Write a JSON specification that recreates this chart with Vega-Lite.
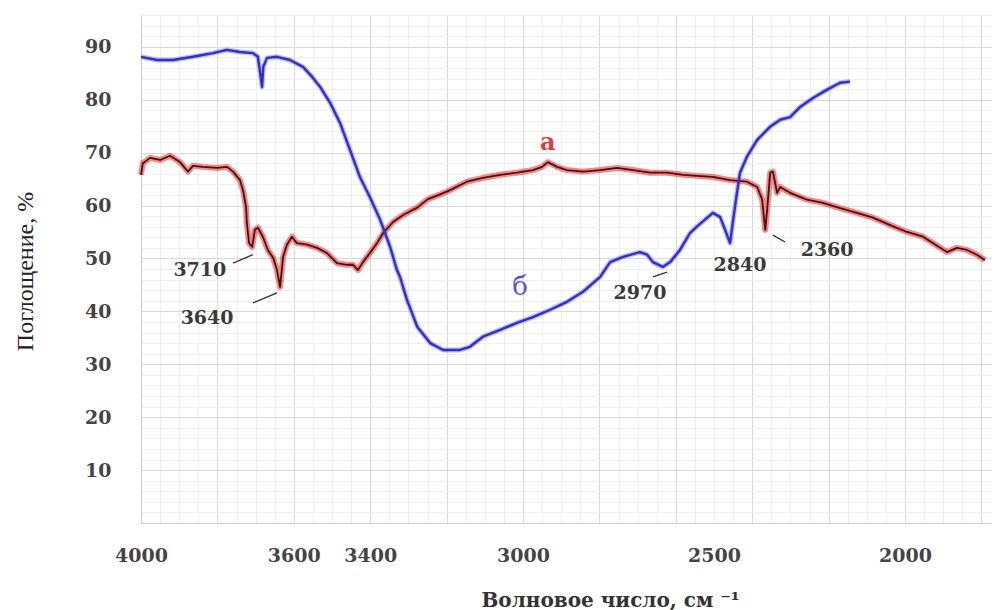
{
  "$schema": "https://vega.github.io/schema/vega-lite/v6.json",
  "autosize": {"type": "none"},
  "width": 850,
  "height": 508,
  "padding": {"left": 141, "top": 15, "right": 7, "bottom": 87},
  "background": "#ffffff",
  "config": {"view": {"stroke": null}},
  "datasets": {
    "spectra": [
      {"wn": 4000, "t": 65.8, "s": "а"}, {"wn": 3995, "t": 68.0, "s": "а"}, {"wn": 3976, "t": 69.0, "s": "а"}, {"wn": 3950, "t": 68.6, "s": "а"},
      {"wn": 3924, "t": 69.4, "s": "а"}, {"wn": 3898, "t": 68.2, "s": "а"}, {"wn": 3877, "t": 66.4, "s": "а"}, {"wn": 3864, "t": 67.5, "s": "а"},
      {"wn": 3838, "t": 67.3, "s": "а"}, {"wn": 3801, "t": 67.1, "s": "а"}, {"wn": 3775, "t": 67.3, "s": "а"}, {"wn": 3759, "t": 66.4, "s": "а"},
      {"wn": 3741, "t": 64.8, "s": "а"}, {"wn": 3733, "t": 62.9, "s": "а"}, {"wn": 3725, "t": 59.7, "s": "а"}, {"wn": 3723, "t": 56.7, "s": "а"},
      {"wn": 3717, "t": 52.9, "s": "а"}, {"wn": 3709, "t": 52.2, "s": "а"}, {"wn": 3702, "t": 55.4, "s": "а"}, {"wn": 3694, "t": 55.8, "s": "а"},
      {"wn": 3681, "t": 54.1, "s": "а"}, {"wn": 3668, "t": 51.6, "s": "а"}, {"wn": 3654, "t": 50.1, "s": "а"}, {"wn": 3644, "t": 47.8, "s": "а"},
      {"wn": 3636, "t": 44.6, "s": "а"}, {"wn": 3628, "t": 50.3, "s": "а"}, {"wn": 3618, "t": 52.6, "s": "а"}, {"wn": 3605, "t": 54.1, "s": "а"},
      {"wn": 3592, "t": 52.9, "s": "а"}, {"wn": 3565, "t": 52.6, "s": "а"}, {"wn": 3539, "t": 52.0, "s": "а"}, {"wn": 3513, "t": 51.0, "s": "а"},
      {"wn": 3487, "t": 49.1, "s": "а"}, {"wn": 3461, "t": 48.8, "s": "а"}, {"wn": 3445, "t": 48.8, "s": "а"}, {"wn": 3432, "t": 47.8, "s": "а"},
      {"wn": 3419, "t": 49.3, "s": "а"}, {"wn": 3401, "t": 51.0, "s": "а"}, {"wn": 3382, "t": 52.9, "s": "а"}, {"wn": 3366, "t": 54.8, "s": "а"},
      {"wn": 3340, "t": 56.9, "s": "а"}, {"wn": 3314, "t": 58.2, "s": "а"}, {"wn": 3277, "t": 59.6, "s": "а"}, {"wn": 3249, "t": 61.2, "s": "а"},
      {"wn": 3220, "t": 62.0, "s": "а"}, {"wn": 3191, "t": 62.9, "s": "а"}, {"wn": 3147, "t": 64.5, "s": "а"}, {"wn": 3105, "t": 65.2, "s": "а"},
      {"wn": 3060, "t": 65.8, "s": "а"}, {"wn": 3016, "t": 66.2, "s": "а"}, {"wn": 2974, "t": 66.7, "s": "а"}, {"wn": 2950, "t": 67.3, "s": "а"},
      {"wn": 2935, "t": 68.2, "s": "а"}, {"wn": 2911, "t": 67.3, "s": "а"}, {"wn": 2885, "t": 66.7, "s": "а"}, {"wn": 2843, "t": 66.4, "s": "а"},
      {"wn": 2798, "t": 66.7, "s": "а"}, {"wn": 2754, "t": 67.1, "s": "а"}, {"wn": 2712, "t": 66.7, "s": "а"}, {"wn": 2668, "t": 66.2, "s": "а"},
      {"wn": 2623, "t": 66.2, "s": "а"}, {"wn": 2581, "t": 65.8, "s": "а"}, {"wn": 2545, "t": 65.6, "s": "а"}, {"wn": 2503, "t": 65.4, "s": "а"},
      {"wn": 2458, "t": 64.8, "s": "а"}, {"wn": 2414, "t": 64.5, "s": "а"}, {"wn": 2387, "t": 63.5, "s": "а"}, {"wn": 2374, "t": 61.1, "s": "а"},
      {"wn": 2366, "t": 55.4, "s": "а"}, {"wn": 2361, "t": 59.2, "s": "а"}, {"wn": 2353, "t": 66.2, "s": "а"}, {"wn": 2346, "t": 66.4, "s": "а"},
      {"wn": 2335, "t": 62.4, "s": "а"}, {"wn": 2327, "t": 63.5, "s": "а"}, {"wn": 2301, "t": 62.4, "s": "а"}, {"wn": 2257, "t": 61.1, "s": "а"},
      {"wn": 2215, "t": 60.5, "s": "а"}, {"wn": 2170, "t": 59.5, "s": "а"}, {"wn": 2126, "t": 58.6, "s": "а"}, {"wn": 2084, "t": 57.7, "s": "а"},
      {"wn": 2039, "t": 56.3, "s": "а"}, {"wn": 1995, "t": 55.0, "s": "а"}, {"wn": 1953, "t": 54.1, "s": "а"}, {"wn": 1908, "t": 52.0, "s": "а"},
      {"wn": 1890, "t": 51.2, "s": "а"}, {"wn": 1864, "t": 52.0, "s": "а"}, {"wn": 1838, "t": 51.6, "s": "а"}, {"wn": 1812, "t": 50.7, "s": "а"},
      {"wn": 1791, "t": 49.7, "s": "а"},
      {"wn": 4000, "t": 88.1, "s": "б"}, {"wn": 3958, "t": 87.5, "s": "б"}, {"wn": 3916, "t": 87.5, "s": "б"}, {"wn": 3864, "t": 88.1, "s": "б"},
      {"wn": 3812, "t": 88.8, "s": "б"}, {"wn": 3775, "t": 89.4, "s": "б"}, {"wn": 3741, "t": 89.0, "s": "б"}, {"wn": 3707, "t": 88.8, "s": "б"},
      {"wn": 3694, "t": 88.1, "s": "б"}, {"wn": 3686, "t": 84.0, "s": "б"}, {"wn": 3683, "t": 82.4, "s": "б"}, {"wn": 3680, "t": 86.2, "s": "б"},
      {"wn": 3670, "t": 87.9, "s": "б"}, {"wn": 3644, "t": 88.1, "s": "б"}, {"wn": 3610, "t": 87.5, "s": "б"}, {"wn": 3576, "t": 86.2, "s": "б"},
      {"wn": 3552, "t": 84.3, "s": "б"}, {"wn": 3531, "t": 82.4, "s": "б"}, {"wn": 3505, "t": 79.4, "s": "б"}, {"wn": 3479, "t": 75.6, "s": "б"},
      {"wn": 3453, "t": 70.5, "s": "б"}, {"wn": 3427, "t": 65.4, "s": "б"}, {"wn": 3401, "t": 61.6, "s": "б"}, {"wn": 3374, "t": 57.3, "s": "б"},
      {"wn": 3348, "t": 52.2, "s": "б"}, {"wn": 3330, "t": 47.8, "s": "б"}, {"wn": 3322, "t": 46.5, "s": "б"}, {"wn": 3304, "t": 42.2, "s": "б"},
      {"wn": 3277, "t": 37.1, "s": "б"}, {"wn": 3243, "t": 34.0, "s": "б"}, {"wn": 3209, "t": 32.7, "s": "б"}, {"wn": 3165, "t": 32.7, "s": "б"},
      {"wn": 3139, "t": 33.3, "s": "б"}, {"wn": 3105, "t": 35.2, "s": "б"}, {"wn": 3060, "t": 36.5, "s": "б"}, {"wn": 3016, "t": 37.8, "s": "б"},
      {"wn": 2974, "t": 38.9, "s": "б"}, {"wn": 2929, "t": 40.3, "s": "б"}, {"wn": 2885, "t": 41.8, "s": "б"}, {"wn": 2843, "t": 43.7, "s": "б"},
      {"wn": 2798, "t": 46.5, "s": "б"}, {"wn": 2772, "t": 49.3, "s": "б"}, {"wn": 2738, "t": 50.3, "s": "б"}, {"wn": 2694, "t": 51.2, "s": "б"},
      {"wn": 2675, "t": 50.7, "s": "б"}, {"wn": 2660, "t": 49.3, "s": "б"}, {"wn": 2634, "t": 48.4, "s": "б"}, {"wn": 2615, "t": 49.3, "s": "б"},
      {"wn": 2589, "t": 51.6, "s": "б"}, {"wn": 2563, "t": 54.8, "s": "б"}, {"wn": 2545, "t": 56.0, "s": "б"}, {"wn": 2503, "t": 58.6, "s": "б"},
      {"wn": 2484, "t": 57.8, "s": "б"}, {"wn": 2471, "t": 55.4, "s": "б"}, {"wn": 2458, "t": 52.9, "s": "б"}, {"wn": 2450, "t": 57.3, "s": "б"},
      {"wn": 2440, "t": 62.4, "s": "б"}, {"wn": 2432, "t": 66.2, "s": "б"}, {"wn": 2414, "t": 69.2, "s": "б"}, {"wn": 2387, "t": 72.4, "s": "б"},
      {"wn": 2353, "t": 74.9, "s": "б"}, {"wn": 2327, "t": 76.2, "s": "б"}, {"wn": 2301, "t": 76.7, "s": "б"}, {"wn": 2275, "t": 78.6, "s": "б"},
      {"wn": 2241, "t": 80.3, "s": "б"}, {"wn": 2204, "t": 81.9, "s": "б"}, {"wn": 2170, "t": 83.2, "s": "б"}, {"wn": 2144, "t": 83.4, "s": "б"}
    ],
    "notes": [
      {"wn": 3846, "v": 47.8, "label": "3710", "kind": "num"},
      {"wn": 3827, "v": 38.8, "label": "3640", "kind": "num"},
      {"wn": 2694, "v": 43.5, "label": "2970", "kind": "num"},
      {"wn": 2432, "v": 48.8, "label": "2840", "kind": "num"},
      {"wn": 2204, "v": 51.6, "label": "2360", "kind": "num"},
      {"wn": 2935, "v": 71.8, "label": "а", "kind": "a"},
      {"wn": 3008, "v": 44.6, "label": "б", "kind": "b"}
    ],
    "leaders": [
      {"wn1": 3759, "v1": 49.1, "wn2": 3707, "v2": 50.7},
      {"wn1": 3707, "v1": 41.6, "wn2": 3644, "v2": 43.5},
      {"wn1": 2660, "v1": 46.5, "wn2": 2623, "v2": 47.4},
      {"wn1": 2346, "v1": 54.4, "wn2": 2314, "v2": 53.1}
    ]
  },
  "encoding": {
    "x": {
      "field": "wn", "type": "quantitative",
      "scale": {"domain": [1775, 4000], "reverse": true, "nice": false, "zero": false},
      "axis": {
        "title": "Волновое  число,   см   ⁻¹",
        "values": [1800,1850,1900,1950,2000,2050,2100,2150,2200,2250,2300,2350,2400,2450,2500,2550,2600,2650,2700,2750,2800,2850,2900,2950,3000,3050,3100,3150,3200,3250,3300,3350,3400,3450,3500,3550,3600,3650,3700,3750,3800,3850,3900,3950,4000],
        "labelExpr": "indexof([4000,3600,3400,3000,2500,2000], datum.value) >= 0 ? datum.value : ''",
        "labelOverlap": false, "labelFlush": false, "labelBound": false,
        "ticks": false, "tickSize": 0, "labelPadding": 23,
        "labelFont": "DejaVu Serif", "labelFontWeight": "bold", "labelFontSize": 19, "labelColor": "#444444",
        "grid": true,
        "gridColor": {"condition": {"test": "datum.value % 200 === 0", "value": "#d9d9d9"}, "value": "#eeeeee"},
        "gridWidth": 1,
        "domainColor": "#cccccc",
        "titleFont": "DejaVu Serif", "titleFontWeight": "bold", "titleFontSize": 20, "titleColor": "#333333",
        "titleX": 469, "titleY": 77, "titleBaseline": "middle", "titleAlign": "center"
      }
    },
    "y": {
      "field": "t", "type": "quantitative",
      "scale": {"domain": [0, 96], "nice": false, "zero": true},
      "axis": {
        "title": "Поглощение, %",
        "values": [0,2,4,6,8,10,12,14,16,18,20,22,24,26,28,30,32,34,36,38,40,42,44,46,48,50,52,54,56,58,60,62,64,66,68,70,72,74,76,78,80,82,84,86,88,90,92,94,96],
        "labelExpr": "datum.value % 10 === 0 && datum.value > 0 ? datum.value : ''",
        "labelOverlap": false, "labelFlush": false, "labelBound": false,
        "ticks": false, "tickSize": 0, "labelPadding": 30,
        "labelFont": "DejaVu Serif", "labelFontWeight": "bold", "labelFontSize": 19, "labelColor": "#444444",
        "grid": true,
        "gridColor": {"condition": {"test": "datum.value % 10 === 0", "value": "#d9d9d9"}, "value": "#eeeeee"},
        "gridWidth": 1,
        "domainColor": "#cccccc",
        "titleFont": "Liberation Serif", "titleFontWeight": "normal", "titleFontSize": 24, "titleColor": "#222222",
        "titleX": -104, "titleY": 256, "titleAngle": 270, "titleBaseline": "bottom", "titleAlign": "center"
      }
    }
  },
  "layer": [
    {
      "data": {"name": "spectra"},
      "transform": [{"filter": "datum.s === 'а'"}],
      "mark": {"type": "line", "color": "#ec3b3b", "strokeWidth": 6, "opacity": 0.6, "strokeJoin": "round"}
    },
    {
      "data": {"name": "spectra"},
      "transform": [{"filter": "datum.s === 'б'"}],
      "mark": {"type": "line", "color": "#7a7af0", "strokeWidth": 5, "opacity": 0.5, "strokeJoin": "round"}
    },
    {
      "data": {"name": "spectra"},
      "transform": [{"filter": "datum.s === 'а'"}],
      "mark": {"type": "line", "color": "#4a0f0f", "strokeWidth": 1.8, "strokeJoin": "round"}
    },
    {
      "data": {"name": "spectra"},
      "transform": [{"filter": "datum.s === 'б'"}],
      "mark": {"type": "line", "color": "#3030c8", "strokeWidth": 2.4, "strokeJoin": "round"}
    },
    {
      "data": {"name": "leaders"},
      "mark": {"type": "rule", "color": "#333333", "strokeWidth": 1.3},
      "encoding": {
        "x": {"field": "wn1", "type": "quantitative"},
        "x2": {"field": "wn2"},
        "y": {"field": "v1", "type": "quantitative"},
        "y2": {"field": "v2"}
      }
    },
    {
      "data": {"name": "notes"},
      "transform": [{"filter": "datum.kind === 'num'"}],
      "mark": {"type": "text", "font": "DejaVu Serif", "fontSize": 19, "fontWeight": "bold", "color": "#3a3a3a", "align": "center", "baseline": "middle"},
      "encoding": {
        "x": {"field": "wn", "type": "quantitative"},
        "y": {"field": "v", "type": "quantitative"},
        "text": {"field": "label"}
      }
    },
    {
      "data": {"name": "notes"},
      "transform": [{"filter": "datum.kind === 'a'"}],
      "mark": {"type": "text", "font": "DejaVu Serif", "fontSize": 24, "fontWeight": "bold", "color": "#e03a3a", "align": "center", "baseline": "middle"},
      "encoding": {
        "x": {"field": "wn", "type": "quantitative"},
        "y": {"field": "v", "type": "quantitative"},
        "text": {"field": "label"}
      }
    },
    {
      "data": {"name": "notes"},
      "transform": [{"filter": "datum.kind === 'b'"}],
      "mark": {"type": "text", "font": "DejaVu Serif", "fontSize": 26, "color": "#5858d0", "align": "center", "baseline": "middle"},
      "encoding": {
        "x": {"field": "wn", "type": "quantitative"},
        "y": {"field": "v", "type": "quantitative"},
        "text": {"field": "label"}
      }
    }
  ]
}
